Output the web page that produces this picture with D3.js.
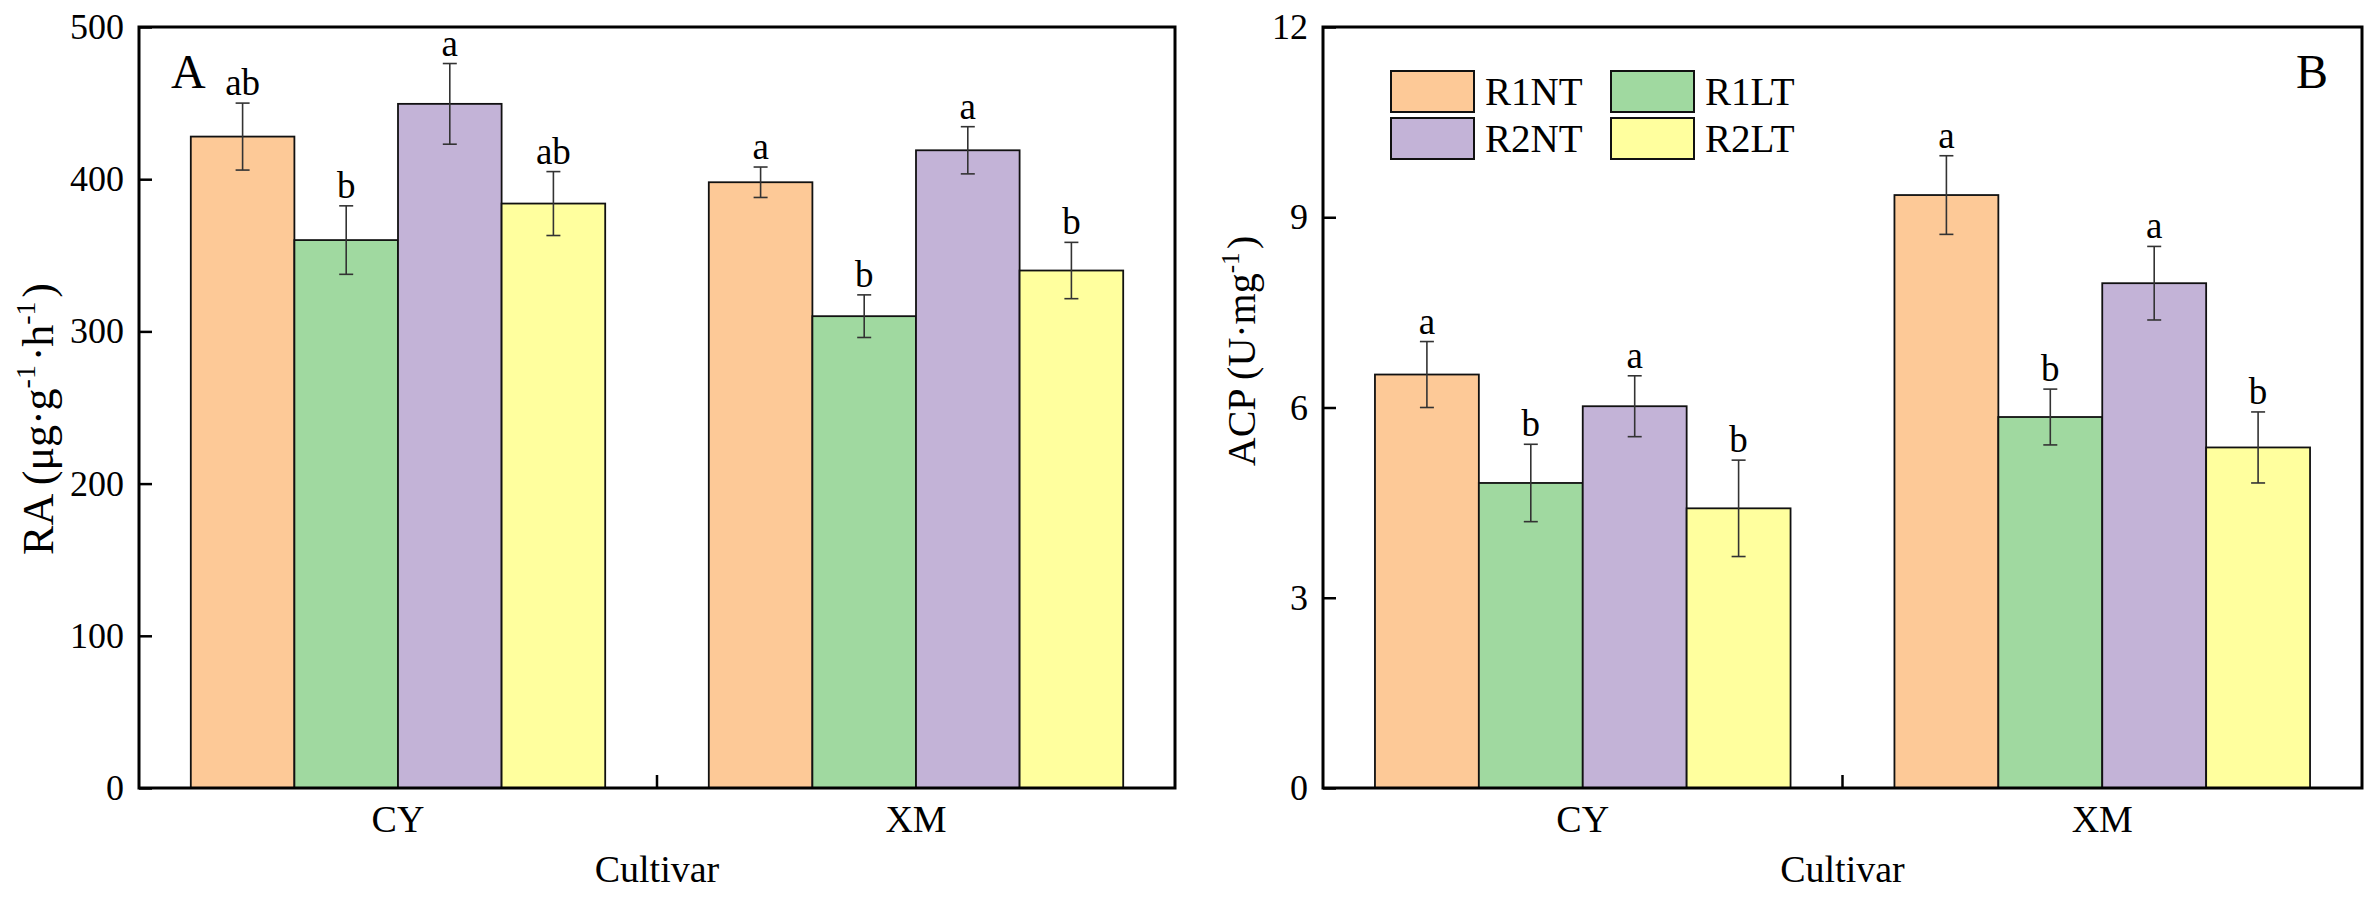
<!DOCTYPE html>
<html>
<head>
<meta charset="utf-8">
<script src="https://cdnjs.cloudflare.com/ajax/libs/d3/7.8.5/d3.min.js"></script>
<style>
  html, body { margin: 0; padding: 0; background: #fff; }
  svg { display: block; }
</style>
</head>
<body>
<svg id="chart" width="2372" height="897"></svg>
<script>
// ---------------- data ----------------
const cultivars = ["CY", "XM"];
const treatments = ["R1NT", "R1LT", "R2NT", "R2LT"];
const colors = ["#FDC997", "#A0D9A0", "#C3B3D7", "#FFFF9E"];

const raMean = [[428, 360, 449.5, 384], [398, 310, 419, 340]];
const raErr = [[22, 22.5, 26.5, 21], [10, 14, 15.5, 18.5]];
const raLetters = [["ab", "b", "a", "ab"], ["a", "b", "a", "b"]];
const raTicks = [0, 100, 200, 300, 400, 500];

const acpMean = [[6.52, 4.81, 6.02, 4.41], [9.35, 5.85, 7.96, 5.37]];
const acpErr = [[0.52, 0.61, 0.48, 0.76], [0.62, 0.44, 0.58, 0.56]];
const acpLetters = [["a", "b", "a", "b"], ["a", "b", "a", "b"]];
const acpTicks = [0, 3, 6, 9, 12];

// ---------------- drawing ----------------
const FONT = "'Liberation Serif', 'Times New Roman', serif";
const svg = d3.select("#chart").style("font-family", FONT);
const plotTop = 27, plotBottom = 788;

function panel(opts) {
  const g = svg.append("g");
  const x0 = d3.scaleBand().domain(cultivars).range([opts.left, opts.right]).paddingInner(0).paddingOuter(0);
  const bw = x0.bandwidth();
  const x1 = d3.scaleBand().domain(treatments).range([bw * 0.1, bw * 0.9]).padding(0);
  const y = d3.scaleLinear().domain([0, opts.max]).range([plotBottom, plotTop]);

  // bars
  cultivars.forEach((c, ci) => {
    const gg = g.append("g").attr("transform", `translate(${x0(c)},0)`);
    const rows = treatments.map((t, ti) => ({
      t, ti, m: opts.mean[ci][ti], e: opts.err[ci][ti], l: opts.letters[ci][ti]
    }));
    gg.selectAll("rect").data(rows).join("rect")
      .attr("x", d => x1(d.t))
      .attr("y", d => y(d.m))
      .attr("width", x1.bandwidth())
      .attr("height", d => y(0) - y(d.m))
      .attr("fill", d => colors[d.ti])
      .attr("stroke", "#111")
      .attr("stroke-width", 1.8);
    const cx = d => x1(d.t) + x1.bandwidth() / 2;
    gg.selectAll("line.ev").data(rows).join("line").attr("class", "ev")
      .attr("x1", cx).attr("x2", cx)
      .attr("y1", d => y(d.m - d.e)).attr("y2", d => y(d.m + d.e))
      .attr("stroke", "#333").attr("stroke-width", 1.6);
    ["t", "b"].forEach(s => {
      const v = d => (s === "t" ? d.m + d.e : d.m - d.e);
      gg.selectAll("line.cap" + s).data(rows).join("line")
        .attr("class", "cap" + s)
        .attr("x1", d => cx(d) - 7).attr("x2", d => cx(d) + 7)
        .attr("y1", d => y(v(d))).attr("y2", d => y(v(d)))
        .attr("stroke", "#333").attr("stroke-width", 1.6);
    });
    gg.selectAll("text.lt").data(rows).join("text").attr("class", "lt")
      .attr("x", cx).attr("y", d => y(d.m + d.e) - 8)
      .attr("text-anchor", "middle")
      .style("font-family", FONT).style("font-size", "37px")
      .text(d => d.l);
  });

  // y axis (inward ticks)
  const ya = g.append("g").attr("transform", `translate(${opts.left},0)`)
    .call(d3.axisLeft(y).tickValues(opts.ticks).tickSizeInner(-13).tickSizeOuter(0).tickPadding(15));
  ya.attr("font-family", null).attr("font-size", null);
  ya.select(".domain").remove();
  ya.selectAll(".tick line").attr("stroke", "#000").attr("stroke-width", 2.5);
  ya.selectAll(".tick text").style("font-family", FONT).style("font-size", "36px").attr("fill", "#000");

  // x axis
  const xa = g.append("g").attr("transform", `translate(0,${plotBottom})`)
    .call(d3.axisBottom(x0).tickSize(0).tickPadding(17));
  xa.attr("font-family", null).attr("font-size", null);
  xa.select(".domain").remove();
  xa.selectAll(".tick text").style("font-family", FONT).style("font-size", "38px").attr("fill", "#000");
  // middle separator tick
  g.append("line")
    .attr("x1", x0(cultivars[1])).attr("x2", x0(cultivars[1]))
    .attr("y1", plotBottom).attr("y2", plotBottom - 13)
    .attr("stroke", "#000").attr("stroke-width", 2.5);

  // frame
  g.append("rect")
    .attr("x", opts.left).attr("y", plotTop)
    .attr("width", opts.right - opts.left).attr("height", plotBottom - plotTop)
    .attr("fill", "none").attr("stroke", "#000").attr("stroke-width", 3);

  // x title
  g.append("text")
    .attr("x", (opts.left + opts.right) / 2).attr("y", 882)
    .attr("text-anchor", "middle")
    .style("font-family", FONT).style("font-size", "38px")
    .text("Cultivar");

  // y title
  const yt = g.append("text")
    .attr("transform", `translate(${opts.titleX},${opts.titleY}) rotate(-90)`)
    .attr("text-anchor", "middle")
    .style("font-family", FONT).style("font-size", opts.titleSize + "px");
  opts.title.forEach(p => {
    if (p.sup) {
      yt.append("tspan").style("font-size", Math.round(opts.titleSize * 0.63) + "px")
        .attr("dy", -Math.round(opts.titleSize * 0.4)).text(p.sup);
      yt.append("tspan").attr("dy", Math.round(opts.titleSize * 0.4)).text("\u200A");
    } else {
      yt.append("tspan").text(p.t);
    }
  });

  // panel letter
  g.append("text")
    .attr("x", opts.letterX).attr("y", 88)
    .style("font-family", FONT).style("font-size", "48px")
    .text(opts.letter);

  return { g, x0, y };
}

panel({
  left: 139, right: 1175, max: 500, ticks: raTicks,
  mean: raMean, err: raErr, letters: raLetters,
  titleX: 53, titleY: 419, titleSize: 44,
  title: [{ t: "RA (\u03BCg\u00B7g" }, { sup: "-1" }, { t: "\u00B7h" }, { sup: "-1" }, { t: ")" }],
  letter: "A", letterX: 171
});

panel({
  left: 1323, right: 2362, max: 12, ticks: acpTicks,
  mean: acpMean, err: acpErr, letters: acpLetters,
  titleX: 1255, titleY: 351, titleSize: 40,
  title: [{ t: "ACP (U\u00B7mg" }, { sup: "-1" }, { t: ")" }],
  letter: "B", letterX: 2296
});

// legend (right panel)
const lg = svg.append("g");
const legPos = [[1391, 71], [1611, 71], [1391, 118], [1611, 118]];
const legItems = treatments.map((t, i) => ({ t, c: colors[i], p: legPos[i] }));
lg.selectAll("rect").data(legItems).join("rect")
  .attr("x", d => d.p[0]).attr("y", d => d.p[1])
  .attr("width", 83).attr("height", 41)
  .attr("fill", d => d.c).attr("stroke", "#111").attr("stroke-width", 2);
lg.selectAll("text").data(legItems).join("text")
  .attr("x", d => d.p[0] + 94).attr("y", d => d.p[1] + 34)
  .style("font-family", FONT).style("font-size", "39px")
  .text(d => d.t);
</script>
</body>
</html>
